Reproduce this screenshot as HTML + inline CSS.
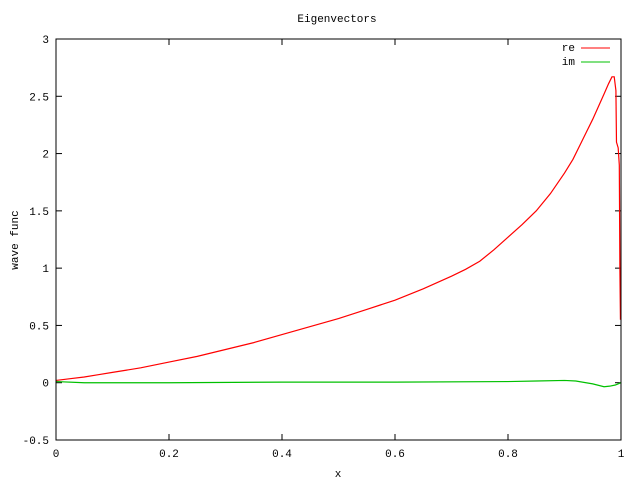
<!DOCTYPE html>
<html><head><meta charset="utf-8"><style>
body{margin:0;background:#fff}
svg{display:block}
text{font-family:"Liberation Mono","DejaVu Sans Mono",monospace;font-size:11px;fill:#000}
</style></head><body>
<svg id="chart" width="640" height="480">
<text x="337" y="22" text-anchor="middle">Eigenvectors</text>
<text x="338" y="477" text-anchor="middle">x</text>
<text transform="translate(18,240) rotate(-90)" text-anchor="middle">wave func</text>
<g id="axes"></g>
<g id="series"></g>
<rect x="56" y="39" width="565" height="401" fill="none" stroke="#000" stroke-width="1"/>
<g>
<text x="575" y="51" text-anchor="end">re</text>
<line x1="581" y1="48" x2="610" y2="48" stroke="#ff0000"/>
<text x="575" y="65" text-anchor="end">im</text>
<line x1="581" y1="62" x2="610" y2="62" stroke="#00c000"/>
</g>
</svg>
<script>
const xTicks=[0,0.2,0.4,0.6,0.8,1];
const xTickLabels=["0","0.2","0.4","0.6","0.8","1"];
const yTicks=[-0.5,0,0.5,1,1.5,2,2.5,3];
const yTickLabels=["-0.5","0","0.5","1","1.5","2","2.5","3"];
const reX=[0,0.025,0.05,0.075,0.1,0.125,0.15,0.175,0.2,0.25,0.3,0.35,0.4,0.45,0.5,0.55,0.6,0.65,0.7,0.725,0.75,0.775,0.8,0.825,0.85,0.875,0.9,0.915,0.93,0.94,0.95,0.96,0.97,0.978,0.984,0.988,0.991,0.992,0.995,0.997,0.998,0.999];
const reY=[0.02,0.035,0.05,0.07,0.09,0.11,0.13,0.155,0.18,0.23,0.29,0.35,0.42,0.49,0.56,0.64,0.72,0.82,0.93,0.99,1.06,1.16,1.27,1.38,1.5,1.65,1.83,1.95,2.1,2.2,2.3,2.41,2.52,2.61,2.67,2.67,2.55,2.1,2.05,1.9,1.0,0.55];
const imX=[0,0.05,0.2,0.4,0.6,0.8,0.85,0.9,0.92,0.95,0.97,0.98,0.99,1];
const imY=[0.01,0.0,0.0,0.005,0.005,0.01,0.015,0.02,0.015,-0.01,-0.035,-0.03,-0.02,0.0];
const L=56,R=621,T=39,B=440,xmin=0,xmax=1,ymin=-0.5,ymax=3;
const sx=v=>L+(v-xmin)/(xmax-xmin)*(R-L);
const sy=v=>B-(v-ymin)/(ymax-ymin)*(B-T);
const NS="http://www.w3.org/2000/svg";
const axes=document.getElementById('axes'),series=document.getElementById('series');
function mk(t,a,p){const e=document.createElementNS(NS,t);for(const k in a)e.setAttribute(k,a[k]);p.appendChild(e);return e;}
xTicks.forEach((v,i)=>{
 const x=sx(v);
 const t1=mk('line',{x1:x,y1:B,x2:x,y2:B-6,stroke:'#000'},axes);
 
 
 const t2=mk('line',{x1:x,y1:T,x2:x,y2:T+6,stroke:'#000'},axes);
 
 
 const l=mk('text',{x:x,y:B+17,'text-anchor':'middle'},axes);l.textContent=xTickLabels[i];
 
 
});
yTicks.forEach((v,i)=>{
 const y=sy(v);
 const t1=mk('line',{x1:L,y1:y,x2:L+6,y2:y,stroke:'#000'},axes);
 
 
 const t2=mk('line',{x1:R,y1:y,x2:R-6,y2:y,stroke:'#000'},axes);
 
 
 const l=mk('text',{x:L-7,y:y+4,'text-anchor':'end'},axes);l.textContent=yTickLabels[i];
 
 
});
function line(xs,ys,c,n){
 const p=mk('polyline',{points:xs.map((x,i)=>sx(x)+','+sy(ys[i])).join(' '),fill:'none',stroke:c,'stroke-width':1.2},series);
 
 
}
line(imX,imY,'#00c000','im-line');
line(reX,reY,'#ff0000','re-line');
</script>
</body></html>
